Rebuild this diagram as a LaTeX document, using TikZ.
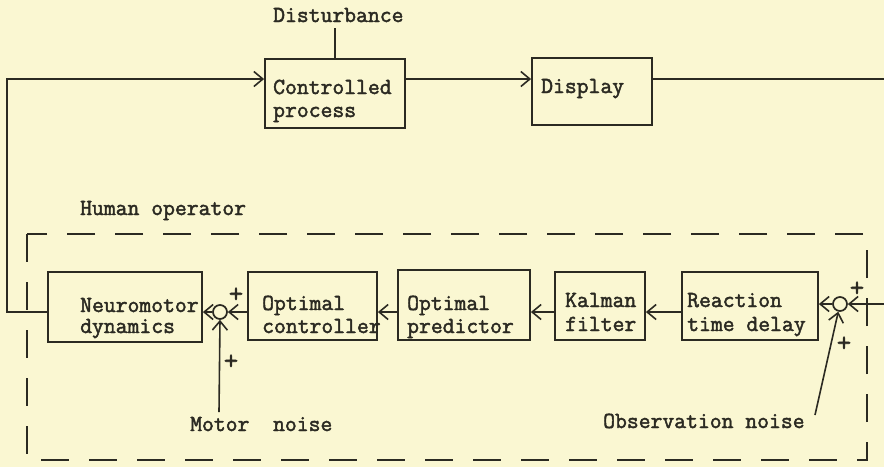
\documentclass[tikz,border=0pt]{standalone}
\usepackage{fontspec}
\setmonofont[FakeBold=2]{Latin Modern Mono}
\usetikzlibrary{arrows.meta}
\definecolor{paper}{HTML}{FAF7D2}
\definecolor{ink}{HTML}{2B2A22}
\tikzset{
  blk/.style={draw=ink, line width=1.8pt, rectangle, inner sep=0pt},
  lbl/.style={anchor=base west, inner sep=0pt, text=ink, font=\ttfamily\fontsize{23}{26}\selectfont},
  pl/.style={inner sep=0pt, text=ink, font=\ttfamily\fontsize{28}{28}\selectfont},
  wire/.style={draw=ink, line width=1.6pt},
  arr/.style={wire, -{Straight Barb[length=9pt,width=15pt,line width=1.6pt]}},
  sum/.style={draw=ink, line width=1.7pt, circle, minimum size=14pt, inner sep=0pt},
  opbox/.style={draw=ink, line width=2pt, dash pattern=on 28pt off 20pt}
}
\begin{document}
\begin{tikzpicture}[x=1pt,y=-1pt]
\fill[paper] (0,0) rectangle (884,467);
\useasboundingbox (0,0) rectangle (884,467);
% coordinates
\coordinate (top) at (0,79);
\coordinate (row) at (0,312);
\coordinate (row2) at (0,304);
\coordinate (lcorner) at (7,0);
\coordinate (rdisp) at (884,79);
\coordinate (rin) at (884,304);
\coordinate (mnend) at (219,412);
\coordinate (onend) at (815,415);
\coordinate (dend) at (335,28);
% operator dashed box
\draw[opbox] (27,234) rectangle (867,460);
% top row blocks
\node[blk, minimum width=140pt, minimum height=69pt] (cp) at (335,93.5) {};
\node[blk, minimum width=120pt, minimum height=67pt] (disp) at (592,91.5) {};
% bottom row blocks
\node[blk, minimum width=154pt, minimum height=70pt] (nd) at (125,307) {};
\node[blk, minimum width=129pt, minimum height=68pt] (oc) at (312.5,306) {};
\node[blk, minimum width=132pt, minimum height=70pt] (op) at (464,305) {};
\node[blk, minimum width=90pt, minimum height=68pt] (kf) at (600,306) {};
\node[blk, minimum width=136pt, minimum height=68pt] (rt) at (750,306) {};
\node[sum] (s1) at (220,312) {};
\node[sum] (s2) at (840,304) {};
% texts
\node[lbl] (dist) at (273,22) {Disturbance};
\node[lbl] (cpt1) at (273,94) {Controlled};
\node[lbl] (cpt2) at (273,117) {process};
\node[lbl] (dispt) at (541,93) {Display};
\node[lbl] (hot) at (80,215) {Human operator};
\node[lbl] (ndt1) at (80,312) {Neuromotor};
\node[lbl] (ndt2) at (80,333) {dynamics};
\node[lbl] (oct1) at (262,310) {Optimal};
\node[lbl] (oct2) at (262,333) {controller};
\node[lbl] (opt1) at (407,310) {Optimal};
\node[lbl] (opt2) at (407,333) {predictor};
\node[lbl] (kft1) at (565,307) {Kalman};
\node[lbl] (kft2) at (565,331) {filter};
\node[lbl] (rtt1) at (687,307) {Reaction};
\node[lbl] (rtt2) at (687,331) {time delay};
\node[lbl] (mn) at (190,431) {Motor\ \ noise};
\node[lbl] (on) at (603,428) {Observation noise};
% plus signs
\node[pl] (p1) at (236,295) {+};
\node[pl] (p2) at (231,362) {+};
\node[pl] (p3) at (857,289) {+};
\node[pl] (p4) at (844,344) {+};
% connectors
\draw[wire] (cp.north) -- (dend);
\draw[arr] (nd.west |- row) -| (lcorner |- top) -- (cp.west |- top);
\draw[arr] (cp.east |- top) -- (disp.west |- top);
\draw[wire] (disp.east |- top) -- (rdisp);
\draw[arr] (rin) -- (s2.east);
\draw[arr] (s2.west) -- (rt.east |- row2);
\draw[arr] (rt.west |- row) -- (kf.east |- row);
\draw[arr] (kf.west |- row) -- (op.east |- row);
\draw[arr] (op.west |- row) -- (oc.east |- row);
\draw[arr] (oc.west |- row) -- (s1.east);
\draw[arr] (s1.west) -- (nd.east |- row);
\draw[arr] (mnend) -- (s1.south);
\draw[arr] (onend) -- (s2);
\end{tikzpicture}
\end{document}
